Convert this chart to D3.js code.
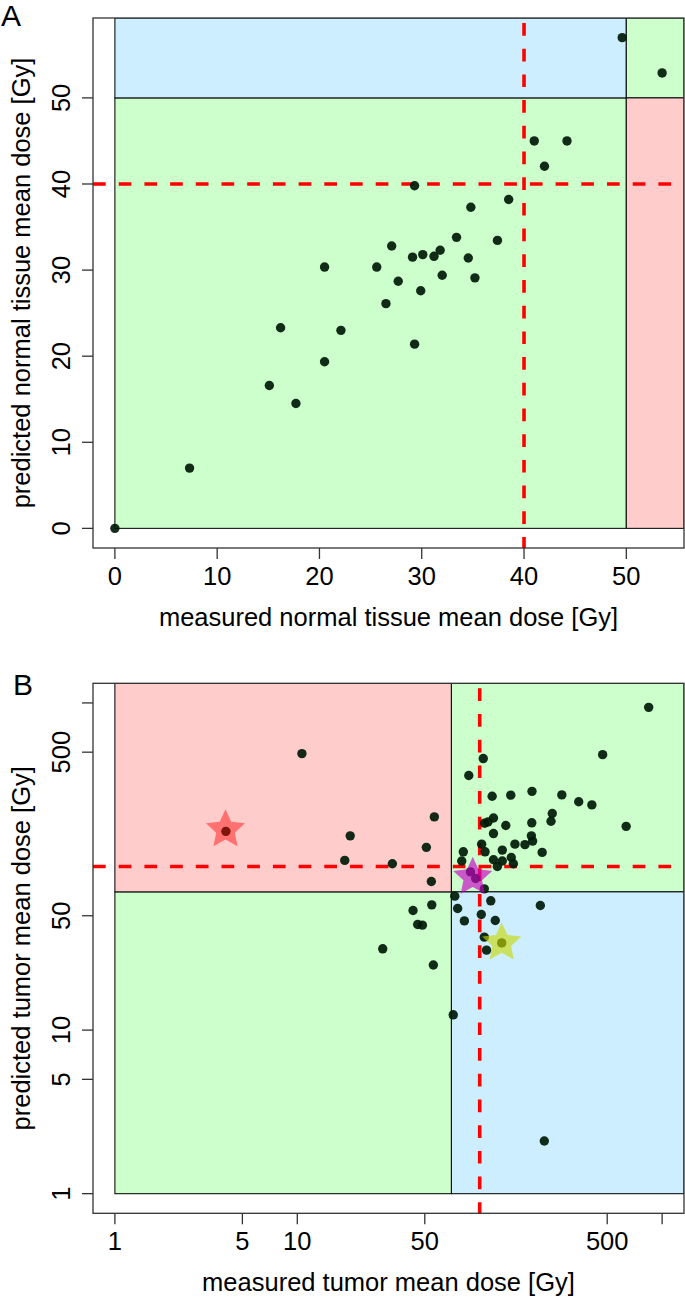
<!DOCTYPE html>
<html>
<head>
<meta charset="utf-8">
<script src="https://cdn.jsdelivr.net/npm/d3@7"></script>
<style>
  html, body { margin: 0; padding: 0; background: #fff; }
  svg { display: block; }
  text { font-family: "Liberation Sans", Arial, Helvetica, sans-serif; fill: #000; }
</style>
</head>
<body>
<svg id="chart" width="685" height="1297"></svg>
<script>
// ---------------- Panel A data (normal tissue, Gy) ----------------
const aMeasured  = [0, 7.3, 15.1, 17.7, 16.2, 20.5, 20.5, 22.1, 25.6, 26.5, 27.06, 27.7, 29.1, 29.3, 29.3, 29.9, 30.1, 31.2, 31.8, 32.0, 33.4, 34.55, 34.8, 35.2, 37.4, 38.5, 41.0, 42.0, 44.2, 49.6, 53.5];
const aPredicted = [0, 7.0, 16.6, 14.5, 23.3, 30.35, 19.35, 23.0, 30.35, 26.1, 32.8, 28.7, 31.5, 39.8, 21.4, 27.6, 31.8, 31.6, 32.3, 29.4, 33.8, 31.4, 37.3, 29.1, 33.45, 38.2, 45.0, 42.06, 45.0, 57.0, 52.9];
const aTicks = [0, 10, 20, 30, 40, 50];
const aLimit = 50;      // solid region boundary
const aThreshold = 40;  // dashed red line
const aXTitle = "measured normal tissue mean dose [Gy]";
const aYTitle = "predicted normal tissue mean dose [Gy]";

// ---------------- Panel B data (tumor, Gy, log scale) ----------------
const bMeasured  = [10.6, 4.06, 19.5, 18.2, 56.4, 51, 33.2, 54.3,
  844, 472, 104.6, 87.1, 193.5, 117, 148, 282, 349, 412, 250, 246, 119, 106.5, 111, 139, 193, 635, 119, 192, 195, 156, 177, 102.5, 220, 81.3, 79.7, 107, 133, 119, 133, 125, 149, 153, 89, 95, 106,
  73, 115, 215, 75.7, 102, 82.4, 121.7, 106, 132, 109, 71.6, 226,
  54.6, 43.1, 45.7, 48.5, 29.4, 55.7];
const bPredicted = [490, 164, 154, 109, 201, 131, 104, 81,
  940, 483, 457, 360, 288, 269, 273, 274, 249, 238, 211, 189, 198, 184, 187, 178, 185, 176, 159, 154, 143, 137, 136, 137, 122, 123, 108, 123, 126, 110, 108, 100, 113.5, 104, 92.7, 84.5, 73,
  65.9, 61.7, 57.8, 55.4, 50.9, 46.5, 46.8, 37, 34.1, 30.8, 12.4, 2.1,
  58.3, 53.8, 44.2, 43.8, 31.4, 25];
const bLimits = [1, 1000];
const bTicks = [1, 5, 10, 50, 500, 1000];
const bTickLabels = ["1", "5", "10", "50", "500", ""];
const bLimit = 70;       // solid region boundary
const bThreshold = 100;  // dashed red line
const bXTitle = "measured tumor mean dose [Gy]";
const bYTitle = "predicted tumor mean dose [Gy]";

// highlighted cases (stars) in panel B
const starMeasured  = [4.04, 91.6, 132];
const starPredicted = [168, 86, 34.1];
const starColors = ["rgba(255,0,0,0.45)", "rgba(200,0,200,0.65)", "rgba(200,215,0,0.62)"];

// ---------------- styling ----------------
const FONT = 25.5;
const C_GREEN = "#ccffcc", C_BLUE = "#cceeff", C_RED = "#ffcccc";
const DOT_R = 4.7;
const svg = d3.select("#chart");

function pad(lo, hi) { const d = (hi - lo) * 0.04; return [lo - d, hi + d]; }

function starPath(R, r) {
  const pts = [];
  for (let i = 0; i < 10; i++) {
    const rad = i % 2 === 0 ? R : r;
    const a = -Math.PI / 2 + i * Math.PI / 5;
    pts.push([rad * Math.cos(a), rad * Math.sin(a)]);
  }
  return "M" + pts.map(p => p.join(",")).join("L") + "Z";
}

function panel(opts) {
  const { box, x, y, xTicks, xLabels, yTicks, yLabels, limit, threshold, mx, my, letter, xTitle, yTitle, clipId } = opts;
  const g = svg.append("g");
  g.append("clipPath").attr("id", clipId).append("rect")
    .attr("x", box.left).attr("y", box.top)
    .attr("width", box.right - box.left).attr("height", box.bottom - box.top);

  const x0 = x(opts.xOrigin), y0 = y(opts.yOrigin);
  const xl = x(limit), yl = y(limit);
  const regions = [
    { x1: x0, x2: xl, y1: yl, y2: y0, fill: opts.fills[0] },       // lower-left
    { x1: x0, x2: xl, y1: box.top, y2: yl, fill: opts.fills[1] },  // upper-left
    { x1: xl, x2: box.right, y1: box.top, y2: yl, fill: opts.fills[2] }, // upper-right
    { x1: xl, x2: box.right, y1: yl, y2: y0, fill: opts.fills[3] }  // lower-right
  ];
  const cg = g.append("g").attr("clip-path", `url(#${clipId})`);
  cg.selectAll("rect.region").data(regions).enter().append("rect")
    .attr("class", "region")
    .attr("x", d => d.x1).attr("y", d => d.y1)
    .attr("width", d => d.x2 - d.x1).attr("height", d => d.y2 - d.y1)
    .attr("fill", d => d.fill).attr("stroke", "#111").attr("stroke-width", 1.1);

  // dashed threshold lines
  cg.append("line")
    .attr("x1", box.left).attr("x2", box.right)
    .attr("y1", y(threshold)).attr("y2", y(threshold))
    .attr("stroke", "#ff0000").attr("stroke-width", 3.6).attr("stroke-dasharray", "12.7,13");
  cg.append("line")
    .attr("x1", x(threshold)).attr("x2", x(threshold))
    .attr("y1", box.top + 5).attr("y2", box.bottom)
    .attr("stroke", "#ff0000").attr("stroke-width", 3.6).attr("stroke-dasharray", "12.7,13");

  // points
  cg.selectAll("circle.pt").data(mx.map((v, i) => [v, my[i]])).enter().append("circle")
    .attr("class", "pt")
    .attr("cx", d => x(d[0])).attr("cy", d => y(d[1])).attr("r", DOT_R)
    .attr("fill", "#001a08").attr("fill-opacity", 0.92);

  if (opts.stars) {
    cg.selectAll("path.star").data(opts.stars).enter().append("path")
      .attr("class", "star")
      .attr("d", starPath(20.5, 9.8))
      .attr("transform", d => `translate(${x(d.mx)},${y(d.my)})`)
      .attr("fill", d => d.color);
  }

  // box
  g.append("rect").attr("x", box.left).attr("y", box.top)
    .attr("width", box.right - box.left).attr("height", box.bottom - box.top)
    .attr("fill", "none").attr("stroke", "#333").attr("stroke-width", 1.3);

  // x axis ticks & labels
  const tl = 11;
  g.selectAll("line.xt").data(xTicks).enter().append("line")
    .attr("x1", d => x(d)).attr("x2", d => x(d))
    .attr("y1", box.bottom).attr("y2", box.bottom + tl)
    .attr("stroke", "#333").attr("stroke-width", 1.3);
  g.selectAll("text.xl").data(xTicks).enter().append("text")
    .attr("x", d => x(d)).attr("y", box.bottom + 37)
    .attr("text-anchor", "middle").attr("font-size", FONT)
    .text((d, i) => xLabels[i]);
  g.append("text").attr("x", (box.left + box.right) / 2).attr("y", box.bottom + 78)
    .attr("text-anchor", "middle").attr("font-size", FONT).text(xTitle);

  // y axis ticks & labels
  g.selectAll("line.yt").data(yTicks).enter().append("line")
    .attr("x1", box.left - tl).attr("x2", box.left)
    .attr("y1", d => y(d)).attr("y2", d => y(d))
    .attr("stroke", "#333").attr("stroke-width", 1.3);
  g.selectAll("text.yl").data(yTicks).enter().append("text")
    .attr("transform", d => `translate(70,${y(d)}) rotate(-90)`)
    .attr("text-anchor", "middle").attr("font-size", FONT)
    .text((d, i) => yLabels[i]);
  g.append("text")
    .attr("transform", `translate(30,${(box.top + box.bottom) / 2}) rotate(-90)`)
    .attr("text-anchor", "middle").attr("font-size", FONT).text(yTitle);

  // panel letter
  g.append("text").attr("x", letter.x).attr("y", letter.y)
    .attr("font-size", 30).text(letter.t);
}

// ---------------- Panel A ----------------
const boxA = { left: 93, right: 684, top: 18, bottom: 548 };
const xA = d3.scaleLinear().domain(pad(d3.min(aMeasured), d3.max(aMeasured))).range([boxA.left, boxA.right]);
const yA = d3.scaleLinear().domain(pad(d3.min(aPredicted), d3.max(aPredicted))).range([boxA.bottom, boxA.top]);
panel({
  box: boxA, x: xA, y: yA,
  xTicks: aTicks, xLabels: aTicks.map(String),
  yTicks: aTicks, yLabels: aTicks.map(String),
  limit: aLimit, threshold: aThreshold, xOrigin: 0, yOrigin: 0,
  fills: [C_GREEN, C_BLUE, C_GREEN, C_RED],
  mx: aMeasured, my: aPredicted,
  letter: { t: "A", x: 1, y: 26 },
  xTitle: aXTitle, yTitle: aYTitle, clipId: "clipA"
});

// ---------------- Panel B ----------------
const boxB = { left: 93, right: 684, top: 683.3, bottom: 1213.3 };
const lg = pad(Math.log10(bLimits[0]), Math.log10(bLimits[1])).map(v => Math.pow(10, v));
const xB = d3.scaleLog().domain(lg).range([boxB.left, boxB.right]);
const yB = d3.scaleLog().domain(lg).range([boxB.bottom, boxB.top]);
panel({
  box: boxB, x: xB, y: yB,
  xTicks: bTicks, xLabels: bTickLabels,
  yTicks: bTicks, yLabels: bTickLabels,
  limit: bLimit, threshold: bThreshold, xOrigin: bLimits[0], yOrigin: bLimits[0],
  fills: [C_GREEN, C_RED, C_GREEN, C_BLUE],
  mx: bMeasured, my: bPredicted,
  stars: starMeasured.map((v, i) => ({ mx: v, my: starPredicted[i], color: starColors[i] })),
  letter: { t: "B", x: 13, y: 695 },
  xTitle: bXTitle, yTitle: bYTitle, clipId: "clipB"
});
</script>
</body>
</html>
